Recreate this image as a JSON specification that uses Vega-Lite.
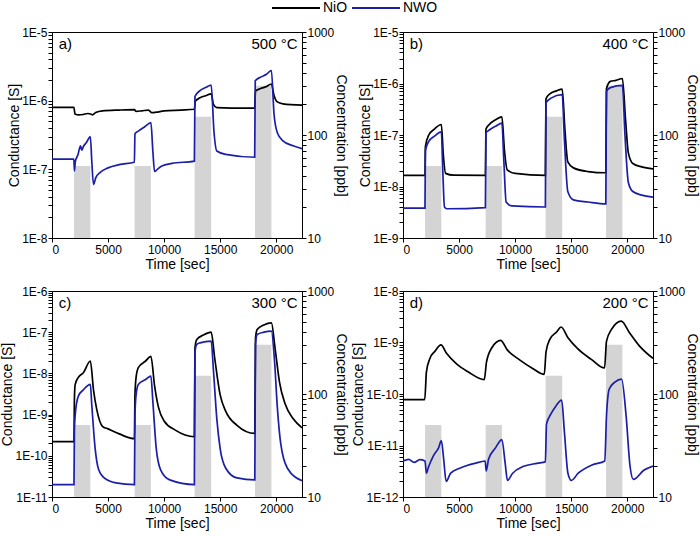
{
"$schema": "https://vega.github.io/schema/vega-lite/v6.json",
"padding": {"left": 0, "top": 1, "right": 0, "bottom": 4},
"datasets": {
"pulses": [{"start": 1970, "end": 3420, "conc": 50}, {"start": 7370, "end": 8820, "conc": 50}, {"start": 12720, "end": 14200, "conc": 150}, {"start": 18110, "end": 19570, "conc": 300}],
"a": [
{"m":"NiO","t":0,"G":8.0e-7},{"m":"NiO","t":1950,"G":8.0e-7},{"m":"NiO","t":2050,"G":6.4e-7},{"m":"NiO","t":2400,"G":6.2e-7},{"m":"NiO","t":2800,"G":6.3e-7},{"m":"NiO","t":3200,"G":6.5e-7},{"m":"NiO","t":3450,"G":6.4e-7},{"m":"NiO","t":3600,"G":6.2e-7},{"m":"NiO","t":3900,"G":6.7e-7},{"m":"NiO","t":4500,"G":7.1e-7},{"m":"NiO","t":6000,"G":7.3e-7},{"m":"NiO","t":7350,"G":7.4e-7},{"m":"NiO","t":7500,"G":7.0e-7},{"m":"NiO","t":8000,"G":7.1e-7},{"m":"NiO","t":8600,"G":7.3e-7},{"m":"NiO","t":8900,"G":6.7e-7},{"m":"NiO","t":9300,"G":6.8e-7},{"m":"NiO","t":10000,"G":7.1e-7},{"m":"NiO","t":11500,"G":7.3e-7},{"m":"NiO","t":12700,"G":7.5e-7},{"m":"NiO","t":12780,"G":9.8e-7},{"m":"NiO","t":13200,"G":1.1e-6},{"m":"NiO","t":13700,"G":1.18e-6},{"m":"NiO","t":14200,"G":1.26e-6},{"m":"NiO","t":14400,"G":8.8e-7},{"m":"NiO","t":14700,"G":7.9e-7},{"m":"NiO","t":16000,"G":7.8e-7},{"m":"NiO","t":18080,"G":7.8e-7},{"m":"NiO","t":18150,"G":1.38e-6},{"m":"NiO","t":18600,"G":1.5e-6},{"m":"NiO","t":19100,"G":1.6e-6},{"m":"NiO","t":19570,"G":1.75e-6},{"m":"NiO","t":19800,"G":1.2e-6},{"m":"NiO","t":20100,"G":9.6e-7},{"m":"NiO","t":20600,"G":9.0e-7},{"m":"NiO","t":22300,"G":8.6e-7},
{"m":"NWO","t":0,"G":1.41e-7},{"m":"NWO","t":1950,"G":1.41e-7},{"m":"NWO","t":2000,"G":9.5e-8},{"m":"NWO","t":2080,"G":1.3e-7},{"m":"NWO","t":2300,"G":1.6e-7},{"m":"NWO","t":2550,"G":2.2e-7},{"m":"NWO","t":2650,"G":1.9e-7},{"m":"NWO","t":2800,"G":2.15e-7},{"m":"NWO","t":3100,"G":2.5e-7},{"m":"NWO","t":3420,"G":3.0e-7},{"m":"NWO","t":3550,"G":1.3e-7},{"m":"NWO","t":3700,"G":6.0e-8},{"m":"NWO","t":3900,"G":7.5e-8},{"m":"NWO","t":4300,"G":9.0e-8},{"m":"NWO","t":5000,"G":1.05e-7},{"m":"NWO","t":6000,"G":1.17e-7},{"m":"NWO","t":7350,"G":1.27e-7},{"m":"NWO","t":7400,"G":3.3e-7},{"m":"NWO","t":7700,"G":3.6e-7},{"m":"NWO","t":8300,"G":4.2e-7},{"m":"NWO","t":8820,"G":4.8e-7},{"m":"NWO","t":9000,"G":1.8e-7},{"m":"NWO","t":9150,"G":9.3e-8},{"m":"NWO","t":9400,"G":1.0e-7},{"m":"NWO","t":9800,"G":1.12e-7},{"m":"NWO","t":10700,"G":1.22e-7},{"m":"NWO","t":12700,"G":1.32e-7},{"m":"NWO","t":12750,"G":1.15e-6},{"m":"NWO","t":13200,"G":1.4e-6},{"m":"NWO","t":13700,"G":1.55e-6},{"m":"NWO","t":14200,"G":1.68e-6},{"m":"NWO","t":14450,"G":3.5e-7},{"m":"NWO","t":14700,"G":1.85e-7},{"m":"NWO","t":15500,"G":1.65e-7},{"m":"NWO","t":18080,"G":1.5e-7},{"m":"NWO","t":18130,"G":1.95e-6},{"m":"NWO","t":18600,"G":2.2e-6},{"m":"NWO","t":19100,"G":2.4e-6},{"m":"NWO","t":19570,"G":2.75e-6},{"m":"NWO","t":19800,"G":6.5e-7},{"m":"NWO","t":20100,"G":3.4e-7},{"m":"NWO","t":20600,"G":2.6e-7},{"m":"NWO","t":21500,"G":2.2e-7},{"m":"NWO","t":22300,"G":2.0e-7}
],
"b": [
{"m":"NiO","t":0,"G":1.65e-8},{"m":"NiO","t":1960,"G":1.65e-8},{"m":"NiO","t":2000,"G":6.0e-8},{"m":"NiO","t":2300,"G":1.0e-7},{"m":"NiO","t":2800,"G":1.3e-7},{"m":"NiO","t":3420,"G":1.6e-7},{"m":"NiO","t":3600,"G":4.0e-8},{"m":"NiO","t":3800,"G":1.8e-8},{"m":"NiO","t":4500,"G":1.66e-8},{"m":"NiO","t":7350,"G":1.65e-8},{"m":"NiO","t":7400,"G":1.3e-7},{"m":"NiO","t":7700,"G":1.6e-7},{"m":"NiO","t":8300,"G":2.0e-7},{"m":"NiO","t":8820,"G":2.25e-7},{"m":"NiO","t":9050,"G":5.0e-8},{"m":"NiO","t":9300,"G":2.1e-8},{"m":"NiO","t":10000,"G":1.8e-8},{"m":"NiO","t":12700,"G":1.65e-8},{"m":"NiO","t":12750,"G":5.0e-7},{"m":"NiO","t":13100,"G":6.3e-7},{"m":"NiO","t":13700,"G":7.2e-7},{"m":"NiO","t":14200,"G":7.8e-7},{"m":"NiO","t":14450,"G":1.2e-7},{"m":"NiO","t":14700,"G":3.0e-8},{"m":"NiO","t":15200,"G":2.3e-8},{"m":"NiO","t":16500,"G":1.95e-8},{"m":"NiO","t":18090,"G":1.85e-8},{"m":"NiO","t":18150,"G":8.0e-7},{"m":"NiO","t":18500,"G":1.1e-6},{"m":"NiO","t":19000,"G":1.15e-6},{"m":"NiO","t":19570,"G":1.25e-6},{"m":"NiO","t":19850,"G":2.0e-7},{"m":"NiO","t":20100,"G":4.5e-8},{"m":"NiO","t":20500,"G":2.8e-8},{"m":"NiO","t":21300,"G":2.4e-8},{"m":"NiO","t":22300,"G":2.2e-8},
{"m":"NWO","t":0,"G":3.8e-9},{"m":"NWO","t":1960,"G":3.8e-9},{"m":"NWO","t":2000,"G":5.0e-8},{"m":"NWO","t":2300,"G":7.5e-8},{"m":"NWO","t":2800,"G":9.5e-8},{"m":"NWO","t":3420,"G":1.15e-7},{"m":"NWO","t":3550,"G":2.0e-8},{"m":"NWO","t":3700,"G":4.0e-9},{"m":"NWO","t":3900,"G":3.7e-9},{"m":"NWO","t":7350,"G":3.9e-9},{"m":"NWO","t":7400,"G":1.1e-7},{"m":"NWO","t":7700,"G":1.25e-7},{"m":"NWO","t":8300,"G":1.5e-7},{"m":"NWO","t":8820,"G":1.7e-7},{"m":"NWO","t":9000,"G":3.0e-8},{"m":"NWO","t":9200,"G":5.0e-9},{"m":"NWO","t":9700,"G":4.2e-9},{"m":"NWO","t":12700,"G":4.0e-9},{"m":"NWO","t":12750,"G":4.2e-7},{"m":"NWO","t":13200,"G":5.2e-7},{"m":"NWO","t":14200,"G":6.1e-7},{"m":"NWO","t":14400,"G":8.0e-8},{"m":"NWO","t":14700,"G":8.0e-9},{"m":"NWO","t":15200,"G":5.5e-9},{"m":"NWO","t":16500,"G":5.0e-9},{"m":"NWO","t":18090,"G":4.6e-9},{"m":"NWO","t":18150,"G":7.0e-7},{"m":"NWO","t":18500,"G":8.3e-7},{"m":"NWO","t":19570,"G":9.2e-7},{"m":"NWO","t":19800,"G":1.0e-7},{"m":"NWO","t":20100,"G":1.2e-8},{"m":"NWO","t":20500,"G":8.0e-9},{"m":"NWO","t":21300,"G":6.8e-9},{"m":"NWO","t":22300,"G":6.2e-9}
],
"c": [
{"m":"NiO","t":0,"G":2.2e-10},{"m":"NiO","t":1960,"G":2.2e-10},{"m":"NiO","t":2000,"G":2.5e-9},{"m":"NiO","t":2070,"G":5.4e-9},{"m":"NiO","t":2350,"G":8.0e-9},{"m":"NiO","t":2800,"G":1.04e-8},{"m":"NiO","t":3420,"G":2.0e-8},{"m":"NiO","t":3700,"G":4.0e-9},{"m":"NiO","t":4000,"G":1.3e-9},{"m":"NiO","t":4500,"G":5.2e-10},{"m":"NiO","t":5000,"G":4.5e-10},{"m":"NiO","t":6000,"G":3.4e-10},{"m":"NiO","t":7350,"G":2.6e-10},{"m":"NiO","t":7400,"G":3.0e-9},{"m":"NiO","t":7500,"G":8.0e-9},{"m":"NiO","t":7700,"G":1.38e-8},{"m":"NiO","t":8350,"G":2.0e-8},{"m":"NiO","t":8820,"G":2.6e-8},{"m":"NiO","t":9150,"G":5.0e-9},{"m":"NiO","t":9500,"G":1.5e-9},{"m":"NiO","t":10000,"G":7.0e-10},{"m":"NiO","t":11000,"G":4.2e-10},{"m":"NiO","t":12700,"G":2.9e-10},{"m":"NiO","t":12750,"G":4.0e-8},{"m":"NiO","t":12900,"G":6.6e-8},{"m":"NiO","t":13500,"G":8.5e-8},{"m":"NiO","t":14200,"G":1.0e-7},{"m":"NiO","t":14500,"G":2.5e-8},{"m":"NiO","t":15000,"G":3.0e-9},{"m":"NiO","t":15500,"G":1.2e-9},{"m":"NiO","t":16500,"G":5.5e-10},{"m":"NiO","t":18090,"G":3.5e-10},{"m":"NiO","t":18150,"G":7.0e-8},{"m":"NiO","t":18300,"G":1.16e-7},{"m":"NiO","t":18900,"G":1.5e-7},{"m":"NiO","t":19570,"G":1.68e-7},{"m":"NiO","t":19900,"G":4.0e-8},{"m":"NiO","t":20300,"G":6.0e-9},{"m":"NiO","t":20800,"G":1.8e-9},{"m":"NiO","t":21500,"G":8.0e-10},{"m":"NiO","t":22300,"G":4.8e-10},
{"m":"NWO","t":0,"G":2.0e-11},{"m":"NWO","t":1960,"G":2.0e-11},{"m":"NWO","t":2000,"G":4.0e-10},{"m":"NWO","t":2070,"G":1.0e-9},{"m":"NWO","t":2350,"G":2.8e-9},{"m":"NWO","t":2800,"G":4.0e-9},{"m":"NWO","t":3420,"G":5.4e-9},{"m":"NWO","t":3550,"G":1.7e-9},{"m":"NWO","t":3850,"G":1.5e-10},{"m":"NWO","t":4150,"G":4.7e-11},{"m":"NWO","t":4600,"G":3.0e-11},{"m":"NWO","t":5700,"G":2.2e-11},{"m":"NWO","t":7350,"G":2.0e-11},{"m":"NWO","t":7400,"G":1.0e-9},{"m":"NWO","t":7500,"G":3.0e-9},{"m":"NWO","t":7700,"G":5.4e-9},{"m":"NWO","t":8350,"G":7.1e-9},{"m":"NWO","t":8820,"G":8.6e-9},{"m":"NWO","t":9000,"G":2.0e-9},{"m":"NWO","t":9300,"G":1.5e-10},{"m":"NWO","t":9700,"G":4.5e-11},{"m":"NWO","t":10500,"G":2.6e-11},{"m":"NWO","t":12700,"G":2.0e-11},{"m":"NWO","t":12750,"G":3.2e-8},{"m":"NWO","t":12900,"G":5.0e-8},{"m":"NWO","t":13200,"G":5.5e-8},{"m":"NWO","t":14200,"G":6.1e-8},{"m":"NWO","t":14400,"G":1.2e-8},{"m":"NWO","t":14700,"G":8.0e-10},{"m":"NWO","t":15000,"G":1.5e-10},{"m":"NWO","t":15500,"G":5.0e-11},{"m":"NWO","t":16500,"G":2.9e-11},{"m":"NWO","t":18090,"G":2.6e-11},{"m":"NWO","t":18150,"G":5.0e-8},{"m":"NWO","t":18300,"G":8.8e-8},{"m":"NWO","t":18900,"G":1.0e-7},{"m":"NWO","t":19570,"G":1.06e-7},{"m":"NWO","t":19850,"G":2.0e-8},{"m":"NWO","t":20100,"G":1.5e-9},{"m":"NWO","t":20400,"G":2.0e-10},{"m":"NWO","t":21000,"G":5.0e-11},{"m":"NWO","t":22300,"G":2.5e-11}
],
"d": [
{"m":"NiO","t":0,"G":7.8e-11},{"m":"NiO","t":1940,"G":7.8e-11},{"m":"NiO","t":2090,"G":2.7e-10},{"m":"NiO","t":2400,"G":4.9e-10},{"m":"NiO","t":2860,"G":6.8e-10},{"m":"NiO","t":3380,"G":9.0e-10},{"m":"NiO","t":3900,"G":6.1e-10},{"m":"NiO","t":4800,"G":3.8e-10},{"m":"NiO","t":5800,"G":2.7e-10},{"m":"NiO","t":7250,"G":1.9e-10},{"m":"NiO","t":7450,"G":4.2e-10},{"m":"NiO","t":7940,"G":8.0e-10},{"m":"NiO","t":8710,"G":1.1e-9},{"m":"NiO","t":9300,"G":7.2e-10},{"m":"NiO","t":10400,"G":4.6e-10},{"m":"NiO","t":11600,"G":3.1e-10},{"m":"NiO","t":12600,"G":2.4e-10},{"m":"NiO","t":12760,"G":6.6e-10},{"m":"NiO","t":13100,"G":1.15e-9},{"m":"NiO","t":13700,"G":1.6e-9},{"m":"NiO","t":14100,"G":2.0e-9},{"m":"NiO","t":14700,"G":1.25e-9},{"m":"NiO","t":15600,"G":7.5e-10},{"m":"NiO","t":16800,"G":4.7e-10},{"m":"NiO","t":17980,"G":3.2e-10},{"m":"NiO","t":18150,"G":1.05e-9},{"m":"NiO","t":18600,"G":1.8e-9},{"m":"NiO","t":19470,"G":2.6e-9},{"m":"NiO","t":20200,"G":1.55e-9},{"m":"NiO","t":21100,"G":8.5e-10},{"m":"NiO","t":22300,"G":4.9e-10},
{"m":"NWO","t":0,"G":5.0e-12},{"m":"NWO","t":500,"G":5.4e-12},{"m":"NWO","t":1000,"G":4.7e-12},{"m":"NWO","t":1500,"G":5.3e-12},{"m":"NWO","t":1960,"G":5.0e-12},{"m":"NWO","t":2090,"G":2.9e-12},{"m":"NWO","t":2250,"G":3.7e-12},{"m":"NWO","t":2710,"G":6.3e-12},{"m":"NWO","t":3170,"G":9.0e-12},{"m":"NWO","t":3420,"G":1.24e-11},{"m":"NWO","t":3630,"G":5.4e-12},{"m":"NWO","t":3850,"G":2.0e-12},{"m":"NWO","t":4250,"G":2.9e-12},{"m":"NWO","t":5170,"G":3.7e-12},{"m":"NWO","t":6400,"G":4.5e-12},{"m":"NWO","t":7330,"G":5.0e-12},{"m":"NWO","t":7420,"G":3.2e-12},{"m":"NWO","t":7630,"G":5.4e-12},{"m":"NWO","t":8250,"G":9.0e-12},{"m":"NWO","t":8820,"G":1.3e-11},{"m":"NWO","t":9110,"G":4.6e-12},{"m":"NWO","t":9320,"G":2.1e-12},{"m":"NWO","t":9780,"G":2.9e-12},{"m":"NWO","t":10700,"G":3.9e-12},{"m":"NWO","t":11940,"G":4.5e-12},{"m":"NWO","t":12700,"G":4.8e-12},{"m":"NWO","t":12800,"G":2.6e-11},{"m":"NWO","t":13170,"G":4.0e-11},{"m":"NWO","t":13630,"G":5.8e-11},{"m":"NWO","t":14150,"G":7.6e-11},{"m":"NWO","t":14400,"G":1.8e-11},{"m":"NWO","t":14710,"G":2.9e-12},{"m":"NWO","t":15020,"G":2.1e-12},{"m":"NWO","t":15630,"G":2.9e-12},{"m":"NWO","t":16860,"G":4.2e-12},{"m":"NWO","t":18000,"G":5.0e-12},{"m":"NWO","t":18150,"G":3.7e-11},{"m":"NWO","t":18400,"G":1.25e-10},{"m":"NWO","t":18900,"G":1.7e-10},{"m":"NWO","t":19500,"G":1.95e-10},{"m":"NWO","t":19900,"G":3.8e-11},{"m":"NWO","t":20250,"G":4.0e-12},{"m":"NWO","t":20550,"G":2.2e-12},{"m":"NWO","t":21480,"G":3.3e-12},{"m":"NWO","t":22300,"G":4.0e-12}
]
},
"vconcat": [
{"hconcat": [
{"width": 250, "height": 206,
 "layer": [
  {"data": {"name": "pulses"}, "mark": {"type": "rect", "color": "#d4d4d4"},
   "encoding": {
    "x": {"field": "start", "type": "quantitative", "scale": {"domain": [0, 22300], "nice": false, "zero": false}, "axis": {"title": "Time [sec]", "values": [0, 5000, 10000, 15000, 20000], "format": "d"}},
    "x2": {"field": "end"},
    "y": {"field": "conc", "type": "quantitative", "scale": {"type": "log", "domain": [10, 1000], "nice": false}, "axis": {"orient": "right", "title": "Concentration [ppb]", "values": [10,20,30,40,50,60,70,80,90,100,200,300,400,500,600,700,800,900,1000], "format": "d", "labelExpr": "(datum.value == 10 || datum.value == 100 || datum.value == 1000) ? datum.label : ''"}},
    "y2": {"datum": 10}}},
  {"layer": [
   {"data": {"name": "a"}, "mark": {"type": "line", "strokeWidth": 1.7, "clip": true, "interpolate": "monotone"},
    "encoding": {
     "x": {"field": "t", "type": "quantitative", "scale": {"domain": [0, 22300], "nice": false, "zero": false}, "axis": {"title": "Time [sec]", "values": [0, 5000, 10000, 15000, 20000], "format": "d"}},
     "y": {"field": "G", "type": "quantitative", "scale": {"type": "log", "domain": [1e-8, 1e-5], "nice": false}, "axis": {"orient": "left", "title": "Conductance [S]", "values": [1e-8,2e-8,3e-8,4e-8,5e-8,6e-8,7e-8,8e-8,9e-8,1e-7,2e-7,3e-7,4e-7,5e-7,6e-7,7e-7,8e-7,9e-7,1e-6,2e-6,3e-6,4e-6,5e-6,6e-6,7e-6,8e-6,9e-6,1e-5], "labelExpr": "abs(log(datum.value)/LN10 - round(log(datum.value)/LN10)) < 0.01 ? '1E' + round(log(datum.value)/LN10) : ''"}},
     "color": {"field": "m", "type": "nominal", "scale": {"domain": ["NiO", "NWO"], "range": ["#000000", "#1b1fa8"]}, "legend": {"orient": "none", "legendX": 218, "legendY": -31, "direction": "horizontal", "title": null, "symbolType": "M-1,0H8.6", "symbolSize": 100, "symbolStrokeWidth": 2, "labelFontSize": 14, "labelOffset": 39, "columnPadding": 0}}}},
   {"data": {"values": [{}]}, "mark": {"type": "text", "align": "left", "baseline": "middle", "fontSize": 15}, "encoding": {"x": {"datum": 600}, "y": {"datum": 6.7e-6}, "text": {"value": "a)"}}},
   {"data": {"values": [{}]}, "mark": {"type": "text", "align": "right", "baseline": "middle", "fontSize": 15}, "encoding": {"x": {"datum": 21900}, "y": {"datum": 6.7e-6}, "text": {"value": "500 °C"}}}
  ]}
 ],
 "resolve": {"scale": {"y": "independent"}}
},
{"width": 250, "height": 206,
 "layer": [
  {"data": {"name": "pulses"}, "mark": {"type": "rect", "color": "#d4d4d4"},
   "encoding": {
    "x": {"field": "start", "type": "quantitative", "scale": {"domain": [0, 22300], "nice": false, "zero": false}, "axis": {"title": "Time [sec]", "values": [0, 5000, 10000, 15000, 20000], "format": "d"}},
    "x2": {"field": "end"},
    "y": {"field": "conc", "type": "quantitative", "scale": {"type": "log", "domain": [10, 1000], "nice": false}, "axis": {"orient": "right", "title": "Concentration [ppb]", "values": [10,20,30,40,50,60,70,80,90,100,200,300,400,500,600,700,800,900,1000], "format": "d", "labelExpr": "(datum.value == 10 || datum.value == 100 || datum.value == 1000) ? datum.label : ''"}},
    "y2": {"datum": 10}}},
  {"layer": [
   {"data": {"name": "b"}, "mark": {"type": "line", "strokeWidth": 1.7, "clip": true, "interpolate": "monotone"},
    "encoding": {
     "x": {"field": "t", "type": "quantitative", "scale": {"domain": [0, 22300], "nice": false, "zero": false}, "axis": {"title": "Time [sec]", "values": [0, 5000, 10000, 15000, 20000], "format": "d"}},
     "y": {"field": "G", "type": "quantitative", "scale": {"type": "log", "domain": [1e-9, 1e-5], "nice": false}, "axis": {"orient": "left", "title": "Conductance [S]", "values": [1e-9,2e-9,3e-9,4e-9,5e-9,6e-9,7e-9,8e-9,9e-9,1e-8,2e-8,3e-8,4e-8,5e-8,6e-8,7e-8,8e-8,9e-8,1e-7,2e-7,3e-7,4e-7,5e-7,6e-7,7e-7,8e-7,9e-7,1e-6,2e-6,3e-6,4e-6,5e-6,6e-6,7e-6,8e-6,9e-6,1e-5], "labelExpr": "abs(log(datum.value)/LN10 - round(log(datum.value)/LN10)) < 0.01 ? '1E' + round(log(datum.value)/LN10) : ''"}},
     "color": {"field": "m", "type": "nominal", "scale": {"domain": ["NiO", "NWO"], "range": ["#000000", "#1b1fa8"]}, "legend": {"orient": "none", "legendX": 218, "legendY": -31, "direction": "horizontal", "title": null, "symbolType": "M-1,0H8.6", "symbolSize": 100, "symbolStrokeWidth": 2, "labelFontSize": 14, "labelOffset": 39, "columnPadding": 0}}}},
   {"data": {"values": [{}]}, "mark": {"type": "text", "align": "left", "baseline": "middle", "fontSize": 15}, "encoding": {"x": {"datum": 600}, "y": {"datum": 5.85e-6}, "text": {"value": "b)"}}},
   {"data": {"values": [{}]}, "mark": {"type": "text", "align": "right", "baseline": "middle", "fontSize": 15}, "encoding": {"x": {"datum": 21900}, "y": {"datum": 5.85e-6}, "text": {"value": "400 °C"}}}
  ]}
 ],
 "resolve": {"scale": {"y": "independent"}}
}
], "spacing": 9},
{"hconcat": [
{"width": 250, "height": 206,
 "layer": [
  {"data": {"name": "pulses"}, "mark": {"type": "rect", "color": "#d4d4d4"},
   "encoding": {
    "x": {"field": "start", "type": "quantitative", "scale": {"domain": [0, 22300], "nice": false, "zero": false}, "axis": {"title": "Time [sec]", "values": [0, 5000, 10000, 15000, 20000], "format": "d"}},
    "x2": {"field": "end"},
    "y": {"field": "conc", "type": "quantitative", "scale": {"type": "log", "domain": [10, 1000], "nice": false}, "axis": {"orient": "right", "title": "Concentration [ppb]", "values": [10,20,30,40,50,60,70,80,90,100,200,300,400,500,600,700,800,900,1000], "format": "d", "labelExpr": "(datum.value == 10 || datum.value == 100 || datum.value == 1000) ? datum.label : ''"}},
    "y2": {"datum": 10}}},
  {"layer": [
   {"data": {"name": "c"}, "mark": {"type": "line", "strokeWidth": 1.7, "clip": true, "interpolate": "monotone"},
    "encoding": {
     "x": {"field": "t", "type": "quantitative", "scale": {"domain": [0, 22300], "nice": false, "zero": false}, "axis": {"title": "Time [sec]", "values": [0, 5000, 10000, 15000, 20000], "format": "d"}},
     "y": {"field": "G", "type": "quantitative", "scale": {"type": "log", "domain": [1e-11, 1e-6], "nice": false}, "axis": {"orient": "left", "title": "Conductance [S]", "values": [1e-11,2e-11,3e-11,4e-11,5e-11,6e-11,7e-11,8e-11,9e-11,1e-10,2e-10,3e-10,4e-10,5e-10,6e-10,7e-10,8e-10,9e-10,1e-9,2e-9,3e-9,4e-9,5e-9,6e-9,7e-9,8e-9,9e-9,1e-8,2e-8,3e-8,4e-8,5e-8,6e-8,7e-8,8e-8,9e-8,1e-7,2e-7,3e-7,4e-7,5e-7,6e-7,7e-7,8e-7,9e-7,1e-6], "labelExpr": "abs(log(datum.value)/LN10 - round(log(datum.value)/LN10)) < 0.01 ? '1E' + round(log(datum.value)/LN10) : ''"}},
     "color": {"field": "m", "type": "nominal", "scale": {"domain": ["NiO", "NWO"], "range": ["#000000", "#1b1fa8"]}, "legend": {"orient": "none", "legendX": 218, "legendY": -31, "direction": "horizontal", "title": null, "symbolType": "M-1,0H8.6", "symbolSize": 100, "symbolStrokeWidth": 2, "labelFontSize": 14, "labelOffset": 39, "columnPadding": 0}}}},
   {"data": {"values": [{}]}, "mark": {"type": "text", "align": "left", "baseline": "middle", "fontSize": 15}, "encoding": {"x": {"datum": 600}, "y": {"datum": 5.1e-7}, "text": {"value": "c)"}}},
   {"data": {"values": [{}]}, "mark": {"type": "text", "align": "right", "baseline": "middle", "fontSize": 15}, "encoding": {"x": {"datum": 21900}, "y": {"datum": 5.1e-7}, "text": {"value": "300 °C"}}}
  ]}
 ],
 "resolve": {"scale": {"y": "independent"}}
},
{"width": 250, "height": 206,
 "layer": [
  {"data": {"name": "pulses"}, "mark": {"type": "rect", "color": "#d4d4d4"},
   "encoding": {
    "x": {"field": "start", "type": "quantitative", "scale": {"domain": [0, 22300], "nice": false, "zero": false}, "axis": {"title": "Time [sec]", "values": [0, 5000, 10000, 15000, 20000], "format": "d"}},
    "x2": {"field": "end"},
    "y": {"field": "conc", "type": "quantitative", "scale": {"type": "log", "domain": [10, 1000], "nice": false}, "axis": {"orient": "right", "title": "Concentration [ppb]", "values": [10,20,30,40,50,60,70,80,90,100,200,300,400,500,600,700,800,900,1000], "format": "d", "labelExpr": "(datum.value == 10 || datum.value == 100 || datum.value == 1000) ? datum.label : ''"}},
    "y2": {"datum": 10}}},
  {"layer": [
   {"data": {"name": "d"}, "mark": {"type": "line", "strokeWidth": 1.7, "clip": true, "interpolate": "monotone"},
    "encoding": {
     "x": {"field": "t", "type": "quantitative", "scale": {"domain": [0, 22300], "nice": false, "zero": false}, "axis": {"title": "Time [sec]", "values": [0, 5000, 10000, 15000, 20000], "format": "d"}},
     "y": {"field": "G", "type": "quantitative", "scale": {"type": "log", "domain": [1e-12, 1e-8], "nice": false}, "axis": {"orient": "left", "title": "Conductance [S]", "values": [1e-12,2e-12,3e-12,4e-12,5e-12,6e-12,7e-12,8e-12,9e-12,1e-11,2e-11,3e-11,4e-11,5e-11,6e-11,7e-11,8e-11,9e-11,1e-10,2e-10,3e-10,4e-10,5e-10,6e-10,7e-10,8e-10,9e-10,1e-9,2e-9,3e-9,4e-9,5e-9,6e-9,7e-9,8e-9,9e-9,1e-8], "labelExpr": "abs(log(datum.value)/LN10 - round(log(datum.value)/LN10)) < 0.01 ? '1E' + round(log(datum.value)/LN10) : ''"}},
     "color": {"field": "m", "type": "nominal", "scale": {"domain": ["NiO", "NWO"], "range": ["#000000", "#1b1fa8"]}, "legend": {"orient": "none", "legendX": 218, "legendY": -31, "direction": "horizontal", "title": null, "symbolType": "M-1,0H8.6", "symbolSize": 100, "symbolStrokeWidth": 2, "labelFontSize": 14, "labelOffset": 39, "columnPadding": 0}}}},
   {"data": {"values": [{}]}, "mark": {"type": "text", "align": "left", "baseline": "middle", "fontSize": 15}, "encoding": {"x": {"datum": 600}, "y": {"datum": 5.85e-9}, "text": {"value": "d)"}}},
   {"data": {"values": [{}]}, "mark": {"type": "text", "align": "right", "baseline": "middle", "fontSize": 15}, "encoding": {"x": {"datum": 21900}, "y": {"datum": 5.85e-9}, "text": {"value": "200 °C"}}}
  ]}
 ],
 "resolve": {"scale": {"y": "independent"}}
}
], "spacing": 2}
],
"spacing": 12,
"config": {
 "font": "Liberation Sans",
 "view": {"stroke": "#000000", "strokeWidth": 1},
 "axis": {"grid": false, "domainColor": "#000000", "tickColor": "#000000", "labelColor": "#000000", "titleColor": "#000000", "labelFontSize": 12, "titleFontSize": 14, "titleFontWeight": "normal", "labelFont": "Liberation Sans", "titleFont": "Liberation Sans", "tickSize": 4, "labelPadding": 1, "titlePadding": 0, "labelOverlap": false},
 "axisX": {"labelPadding": 2, "titlePadding": 2},
 "legend": {"labelFont": "Liberation Sans", "labelColor": "#000000"},
 "text": {"font": "Liberation Sans", "color": "#000000"}
}
}
